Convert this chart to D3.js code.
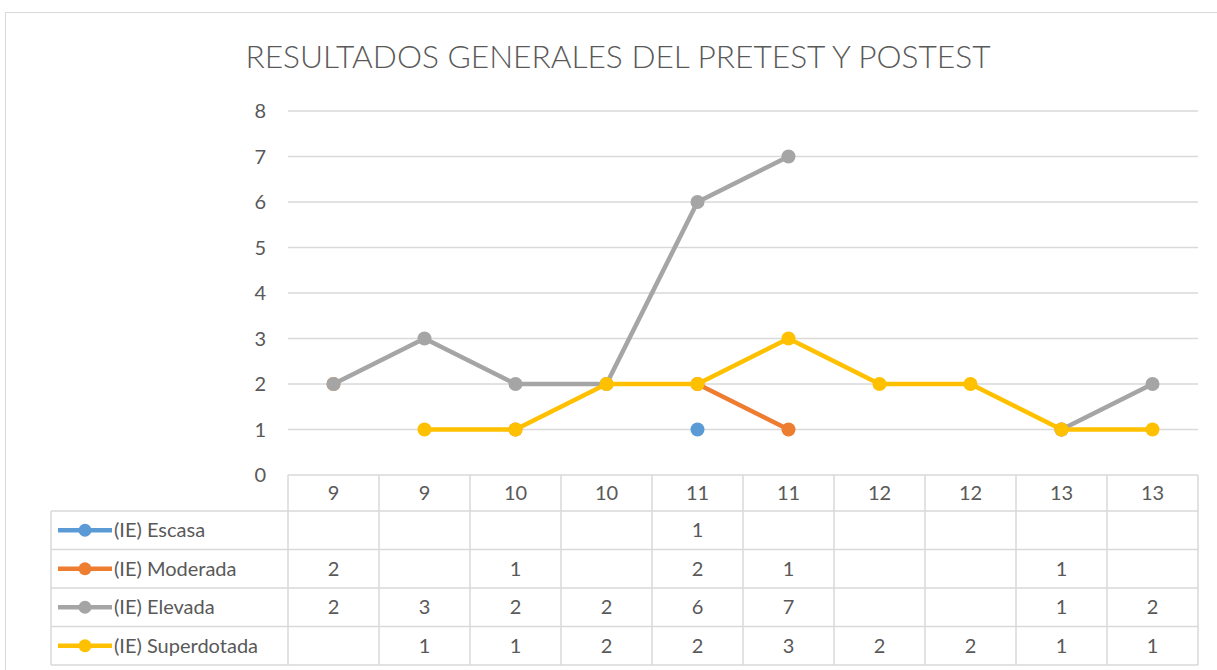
<!DOCTYPE html>
<html lang="en">
<head>
<meta charset="utf-8">
<script src="https://d3js.org/d3.v7.min.js"></script>
<style>
  body { margin: 0; background: #fff; }
  text { font-family: Lato, "Open Sans", sans-serif; fill: #595959; }
</style>
</head>
<body>
<div id="chart"></div>
<script>
// data
var categories = ["9", "9", "10", "10", "11", "11", "12", "12", "13", "13"];
var seriesNames = ["(IE) Escasa", "(IE) Moderada", "(IE) Elevada", "(IE) Superdotada"];
var escasa      = [null, null, null, null, 1, null, null, null, null, null];
var moderada    = [2, null, 1, null, 2, 1, null, null, 1, null];
var elevada     = [2, 3, 2, 2, 6, 7, null, null, 1, 2];
var superdotada = [null, 1, 1, 2, 2, 3, 2, 2, 1, 1];
var yTicks = [0, 1, 2, 3, 4, 5, 6, 7, 8];
var colors = ["#5B9BD5", "#ED7D31", "#A5A5A5", "#FFC000"];

var series = [escasa, moderada, elevada, superdotada].map(function(v, i) {
  return {name: seriesNames[i], values: v, color: colors[i]};
});

var W = 1217, H = 670;
var plot = {left: 288, right: 1198, top: 111, bottom: 475};
var headerH = 36, rowH = 38.5, tableLeft = 51;
var fs = "20px";

var svg = d3.select("#chart").append("svg")
  .attr("width", W).attr("height", H);

// chart frame
svg.append("rect")
  .attr("x", 5.5).attr("y", 12.5)
  .attr("width", W + 20).attr("height", H + 20)
  .attr("fill", "none").attr("stroke", "#D9D9D9");

// title
svg.append("text")
  .attr("x", 618).attr("y", 68)
  .attr("text-anchor", "middle")
  .style("font-size", "31px").style("font-weight", 300)
  .attr("textLength", 745).attr("lengthAdjust", "spacingAndGlyphs")
  .text("RESULTADOS GENERALES DEL PRETEST Y POSTEST");

var x = d3.scaleBand().domain(d3.range(categories.length))
  .range([plot.left, plot.right]);
var y = d3.scaleLinear().domain([0, 8]).range([plot.bottom, plot.top]);
var cx = function(i) { return x(i) + x.bandwidth() / 2; };

// gridlines
svg.append("g").selectAll("line").data(yTicks.slice(1)).enter()
  .append("line")
  .attr("x1", plot.left).attr("x2", plot.right)
  .attr("y1", function(d) { return y(d); }).attr("y2", function(d) { return y(d); })
  .attr("stroke", "#D9D9D9").attr("stroke-width", 1.5);

// y axis labels
svg.append("g").selectAll("text").data(yTicks).enter()
  .append("text")
  .attr("x", 266).attr("y", function(d) { return y(d); })
  .attr("dy", "0.35em").attr("text-anchor", "end")
  .style("font-size", fs)
  .text(function(d) { return d; });

// data table
var table = svg.append("g");
var tableBottom = plot.bottom + headerH + rowH * 4;
var lineStyle = function(sel) { sel.attr("stroke", "#D9D9D9").attr("stroke-width", 1.5); };

// horizontal rules
table.append("line").attr("x1", plot.left).attr("x2", plot.right)
  .attr("y1", plot.bottom).attr("y2", plot.bottom).call(lineStyle);
d3.range(5).forEach(function(i) {
  var yy = plot.bottom + headerH + rowH * i;
  table.append("line").attr("x1", tableLeft).attr("x2", plot.right)
    .attr("y1", yy).attr("y2", yy).call(lineStyle);
});
// vertical rules
table.append("line").attr("x1", tableLeft).attr("x2", tableLeft)
  .attr("y1", plot.bottom + headerH).attr("y2", tableBottom).call(lineStyle);
d3.range(categories.length + 1).forEach(function(i) {
  var xx = plot.left + x.step() * i;
  table.append("line").attr("x1", xx).attr("x2", xx)
    .attr("y1", plot.bottom).attr("y2", tableBottom).call(lineStyle);
});

// category labels
table.selectAll(".cat").data(categories).enter()
  .append("text").attr("class", "cat")
  .attr("x", function(d, i) { return cx(i); })
  .attr("y", plot.bottom + headerH / 2).attr("dy", "0.35em")
  .attr("text-anchor", "middle").style("font-size", fs)
  .text(function(d) { return d; });

// rows: legend key + values
series.forEach(function(s, r) {
  var cy = plot.bottom + headerH + rowH * r + rowH / 2;
  var g = table.append("g");
  g.append("line").attr("x1", 58).attr("x2", 112).attr("y1", cy).attr("y2", cy)
    .attr("stroke", s.color).attr("stroke-width", 4.5);
  g.append("circle").attr("cx", 85).attr("cy", cy).attr("r", 6.5).attr("fill", s.color);
  g.append("text").attr("x", 114).attr("y", cy).attr("dy", "0.35em")
    .style("font-size", fs).text(s.name);
  s.values.forEach(function(v, i) {
    if (v == null) return;
    g.append("text")
      .attr("x", cx(i)).attr("y", cy).attr("dy", "0.35em")
      .attr("text-anchor", "middle").style("font-size", fs).text(v);
  });
});

// lines
var line = d3.line()
  .defined(function(d) { return d != null; })
  .x(function(d, i) { return cx(i); })
  .y(function(d) { return y(d); });

series.forEach(function(s) {
  var g = svg.append("g");
  g.append("path").datum(s.values)
    .attr("d", line).attr("fill", "none")
    .attr("stroke", s.color).attr("stroke-width", 4.5)
    .attr("stroke-linejoin", "round");
  g.selectAll("circle").data(s.values.map(function(v, i) { return {v: v, i: i}; })
      .filter(function(d) { return d.v != null; }))
    .enter().append("circle")
    .attr("cx", function(d) { return cx(d.i); })
    .attr("cy", function(d) { return y(d.v); })
    .attr("r", 7).attr("fill", s.color);
});
</script>
</body>
</html>
